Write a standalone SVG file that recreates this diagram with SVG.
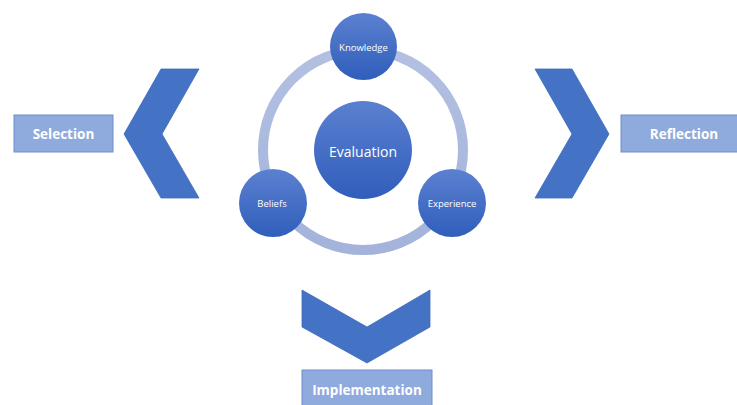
<svg xmlns="http://www.w3.org/2000/svg" width="737" height="405" viewBox="0 0 737 405">
<defs>
<linearGradient id="cg" x1="0" y1="0" x2="0" y2="1">
<stop offset="0" stop-color="#5B80D0"/>
<stop offset="1" stop-color="#305EBB"/>
</linearGradient>
<linearGradient id="rg" x1="0" y1="0" x2="0" y2="1">
<stop offset="0" stop-color="#B3C0E2"/>
<stop offset="1" stop-color="#A3B3DA"/>
</linearGradient>
<style>
.chev{fill:#4472C4;stroke:#3F6BBA;stroke-width:0.8}
.box{fill:#8FAADC;stroke:#6E8ECC;stroke-width:1}
.bt{font-family:"Open Sans","Liberation Sans",sans-serif;font-weight:bold;font-size:13.5px;fill:#FFFFFF;text-anchor:middle;dominant-baseline:central}
.circ{fill:url(#cg)}
.ct{font-family:"Open Sans","Liberation Sans",sans-serif;fill:#FFFFFF;text-anchor:middle;dominant-baseline:central}
</style>
</defs>
<rect width="737" height="405" fill="#FFFFFF"/>
<g id="connectors">
<circle id="ring" cx="363" cy="150" r="100" fill="none" stroke="url(#rg)" stroke-width="10"/>
<polygon class="chev" points="161,69 199,69 162,134 199,198 161,198 124,134"/>
<polygon class="chev" points="535,69 572,69 609,134 572,198 535,198 572,134"/>
<polygon class="chev" points="302,290 367,327 430,290 430,327 367,363 302,327"/>
</g>
<g id="selection">
<rect class="box" x="14" y="115" width="99" height="37"/>
<text class="bt" x="63.5" y="134">Selection</text>
</g>
<g id="reflection">
<rect class="box" x="621" y="115" width="125" height="37"/>
<text class="bt" x="684" y="134">Reflection</text>
</g>
<g id="implementation">
<rect class="box" x="302" y="370" width="130" height="45"/>
<text class="bt" x="367" y="390">Implementation</text>
</g>
<g id="evaluation">
<circle class="circ" cx="363" cy="150" r="49"/>
<text class="ct" x="363" y="151" font-size="14">Evaluation</text>
</g>
<g id="knowledge">
<circle class="circ" cx="363.5" cy="46.5" r="33.5"/>
<text class="ct" x="363.5" y="47" font-size="9.5">Knowledge</text>
</g>
<g id="beliefs">
<circle class="circ" cx="273" cy="203" r="34"/>
<text class="ct" x="272" y="203" font-size="9.5">Beliefs</text>
</g>
<g id="experience">
<circle class="circ" cx="452" cy="203" r="34"/>
<text class="ct" x="452" y="203" font-size="9.5">Experience</text>
</g>
</svg>
